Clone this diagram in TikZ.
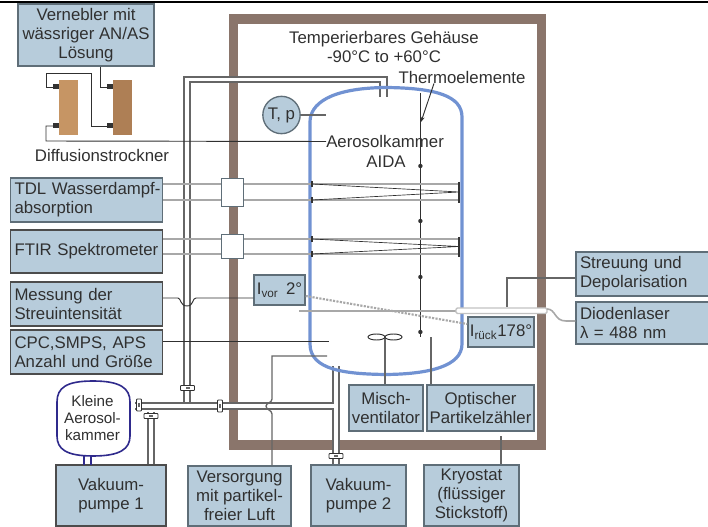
\documentclass[tikz,border=0pt]{standalone}
\usepackage{fontspec}
\setmainfont{Liberation Sans}
\usetikzlibrary{arrows.meta,calc}
\definecolor{boxblue}{HTML}{B7CCDB}
\definecolor{boxedge}{HTML}{5F6E78}
\definecolor{wallbrown}{HTML}{8A756B}
\definecolor{vesselblue}{HTML}{7192D2}
\definecolor{pipegray}{HTML}{666666}
\definecolor{raygray}{HTML}{A8A8A8}
\definecolor{inkgray}{HTML}{303030}
\definecolor{chamberblue}{HTML}{2F2A8C}
\definecolor{dryerlight}{HTML}{C69564}
\definecolor{dryerdark}{HTML}{AE7F55}
\tikzset{
  infobox/.style={draw=boxedge, line width=1pt, fill=boxblue, text=inkgray, inner sep=0pt,
    font=\fontsize{12.6}{14.25}\selectfont, align=center},
  leftbox/.style={infobox, align=left, inner xsep=3pt, text width=#1},
  boxsize/.style 2 args={minimum width=#1*0.75pt, minimum height=#2*0.75pt},
  plaintext/.style={text=inkgray, inner sep=0pt, font=\fontsize{12.6}{14.25}\selectfont, align=center},
  wire/.style={draw=inkgray, line width=0.7pt},
  graywire/.style={draw=pipegray, line width=1pt},
  pipefill/.style={draw=white, line width=3.6pt},
  pipe/.style={draw=pipegray, line width=0.8pt},
  ray/.style={draw=raygray, line width=0.9pt},
}
\newcommand{\valveh}[1]{% horizontal pipe clamp centered at (#1)
  \fill[white, draw=inkgray, line width=0.7pt, rounded corners=0.5pt]
    ($(#1)+(-7,-2.5)$) rectangle ($(#1)+(7,2.5)$);
  \fill[pipegray] ($(#1)+(-2,-1)$) rectangle ($(#1)+(2,1)$);
}
\newcommand{\valvev}[1]{% vertical pipe clamp centered at (#1)
  \fill[white, draw=inkgray, line width=0.7pt, rounded corners=0.5pt]
    ($(#1)+(-2.5,-6)$) rectangle ($(#1)+(2.5,6)$);
  \fill[pipegray] ($(#1)+(-1,-2)$) rectangle ($(#1)+(1,2)$);
}
\newcommand{\dryer}[2]{% drier column centered at (#1), colour #2
  \fill[#2] ($(#1)+(-9.5,-27.5)$) rectangle ($(#1)+(9.5,27.5)$);
  \fill[black!80] ($(#1)+(-15.5,-23)$) rectangle ($(#1)+(-9.5,-18)$);
  \fill[black!80] ($(#1)+(-15.5,16)$) rectangle ($(#1)+(-9.5,21)$);
}
\newcommand{\absorb}[3]{% white port and folded optical path, rows #1 and #2, port height #3
  \draw[ray] (tdl.east |- 0,#1) -- (459,#1);
  \draw[ray] (tdl.east |- 0,#2) -- (459,#2);
  \node[fill=white, draw=boxedge, line width=0.7pt, minimum width=16.5pt, minimum height=#3*0.75pt, inner sep=0pt]
    (port#1) at (232,{(#1+#2)/2}) {};
  \draw[line width=0.5pt, inkgray] (312,#1) -- (459,{(#1+#2)/2}) -- (312,#2);
  \draw[line width=1.6pt, black!80] (312,#1-3) -- (312,#1+3);
  \draw[line width=1.6pt, black!80] (312,#2-3) -- (312,#2+3);
  \draw[line width=1.6pt, black!80] (459,#1-2) -- (459,#2+3);
}

\begin{document}
\begin{tikzpicture}[x=0.75pt,y=-0.75pt]
  \useasboundingbox (0,0) rectangle (708,527);
  \fill[black] (0,1) rectangle (708,3.5);

  % housing
  \draw[wallbrown, line width=7pt, line join=miter] (233.5,19) rectangle (541.5,445);

  % pipes, white core first
  \draw[pipefill] (383.5,97) -- (383.5,79.5) -- (187,79.5) -- (187,403);
  \draw[pipefill] (135,406) -- (336,406);
  \draw[pipefill] (336,366) -- (336,464);
  \draw[pipefill] (151,409) -- (151,464);
  \draw[pipe] (387,97) -- (387,77) -- (184,77) -- (184,403);
  \draw[pipe] (380,97) -- (380,82) -- (190,82) -- (190,403);
  \draw[pipe] (135,403) -- (333,403) -- (333,366);
  \draw[pipe] (135,409) -- (333,409) -- (333,464);
  \draw[pipe] (339,366) -- (339,464);
  \draw[pipe] (148,412) -- (148,464);
  \draw[pipe] (154,412) -- (154,464);

  % vessel
  \draw[vesselblue, line width=2.4pt] (310,344)
    -- (310,122) .. controls (310,104) and (330,88) .. (386,87.5)
    .. controls (436,88) and (462,96) .. (462,117)
    -- (462,344) .. controls (462,366) and (430,374) .. (386,374.5)
    .. controls (345,374) and (310,370) .. (310,344);

  % boxes
  \node[infobox, boxsize={136}{62}] (nebler) at (86,35) {Vernebler mit\\wässriger AN/AS\\Lösung};
  \node[leftbox=108pt, boxsize={151}{44}] (tdl) at (86.5,200) {\mbox{TDL Wasserdampf-}\\absorption};
  \node[leftbox=108pt, boxsize={151}{43}, draw=black!70] (ftir) at (86.5,251.5) {FTIR Spektrometer};
  \node[leftbox=108pt, boxsize={151}{44}, draw=black!70] (messung) at (86.5,304) {Messung der\\Streuintensität};
  \node[leftbox=108pt, boxsize={151}{44}, draw=black!70] (cpc) at (86.5,352) {CPC,SMPS, APS\\Anzahl und Größe};
  \node[infobox, boxsize={110}{61}, draw=black!70] (pumpa) at (111,495.5) {Vakuum-\\pumpe 1};
  \node[infobox, boxsize={103}{60}] (luft) at (239.5,496) {Versorgung\\mit partikel-\\freier Luft};
  \node[infobox, boxsize={95}{61}] (pumpb) at (358.5,495.5) {Vakuum-\\pumpe 2};
  \node[infobox, boxsize={95}{61}] (kryo) at (471.5,495.5) {Kryostat\\(flüssiger\\Stickstoff)};
  \node[infobox, boxsize={74}{46}] (misch) at (386,408) {Misch-\\ventilator};
  \node[infobox, boxsize={107}{46}] (optik) at (480.5,408) {Optischer\\Partikelzähler};
  \node[infobox, boxsize={51}{30}] (ivor) at (279.5,290) {I\textsubscript{vor}\, 2°};
  \node[infobox, boxsize={66}{30}] (irueck) at (501,332) {I\textsubscript{rück}178°};
  \node[leftbox=96pt, boxsize={136}{44}] (streu) at (644,274) {Streuung und\\Depolarisation};
  \node[leftbox=96pt, boxsize={136}{42}] (diode) at (644,323) {Diodenlaser\\λ = 488 nm};
  \node[circle, draw=boxedge, line width=1pt, fill=boxblue, text=inkgray, inner sep=0pt, minimum size=28pt,
    font=\fontsize{12.6}{14}\selectfont] (tp) at (281.5,115) {T, p};

  % labels
  \node[plaintext] (gehaeuse) at (384,46.5) {Temperierbares Gehäuse\\-90°C to +60°C};
  \node[plaintext] (thermo) at (462,77) {Thermoelemente};
  \node[plaintext, anchor=west] (aida) at (326,141.5) {Aerosolkammer};
  \node[plaintext] (aidb) at (386,162) {AIDA};
  \node[plaintext] (trockner) at (102,155) {Diffusionstrockner};

  % small chamber
  \draw[draw=chamberblue, line width=1.2pt, fill=white] (57,402)
    .. controls (57,388) and (66,381) .. (93,381)
    .. controls (120,381) and (130,388) .. (130,402)
    -- (130,436) .. controls (130,449) and (120,456) .. (93,456)
    .. controls (66,456) and (57,449) .. (57,436) -- cycle;
  \node[plaintext, font=\fontsize{11.4}{12.8}\selectfont] (klein) at (92.5,418.5) {Kleine\\Aerosol-\\kammer};
  \draw[draw=chamberblue, line width=0.9pt] (84,456) -- (84,465);
  \draw[draw=chamberblue, line width=0.9pt] (91,456) -- (91,465);

  % driers
  \dryer{68.5,107.5}{dryerlight}
  \dryer{122,107.5}{dryerdark}
  \draw[wire] (55,87) -- (46,87) -- (46,73) -- (91,73) -- (91,126) -- (108,126);
  \draw[wire] (nebler.south -| 100,0) -- (100,87) -- (108,87);
  \draw[wire] (55,126) -- (46,126) -- (46,141) -- (aida.west);

  % sensors
  \draw[graywire] (tp.east) -- (326,115);
  \draw[wire] (420.4,93) -- (420.4,337);
  \foreach \ypos in {166,221,277,332}
    \fill[inkgray] (420.4,\ypos) circle (2.2);
  \draw[wire, -{Stealth[length=4pt]}] (thermo.south -| 434,0) -- (421,122);

  % optical paths
  \absorb{184}{200}{28}
  \absorb{239}{254}{24}
  \draw[raygray, line width=1.6pt, densely dotted] (ivor.east |- 0,296) -- (irueck.west |- 0,324);
  \draw[raygray, line width=2.2pt] (299,311) -- (457,311);
  \draw[raygray!70, fill=white, line width=1pt, rounded corners=1pt] (456,308) rectangle (547,313.5);
  \draw[graywire, draw=raygray, line width=1.2pt] (547,309) .. controls (556,309) and (554,321) .. (566,321) -- (diode.west |- 0,321);
  \draw[graywire] (streu.west |- 0,278) -- (507,278) -- (507,307);

  % connectors
  \draw[wire] (messung.east |- 0,298) -- (178,298) .. controls (181,298) and (180,306) .. (187,306)
    .. controls (194,306) and (192,298) .. (196,298) -- (ivor.west |- 0,298);
  \draw[wire] (cpc.east |- 0,341.4) -- (329,341.4);
  \draw[graywire] (luft.north -| 272,0) -- (272,414) .. controls (272,410) and (266,410) .. (266,406)
    .. controls (266,403) and (272,403) .. (272,399) -- (272,356) -- (327,356);
  \draw[graywire] (misch.north -| 385,0) -- (385,337);
  \draw[draw=inkgray, fill=white, line width=0.7pt] (376.5,337) ellipse (8.5 and 3);
  \draw[draw=inkgray, fill=white, line width=0.7pt] (393.5,337) ellipse (8.5 and 3);
  \draw[graywire] (optik.north -| 431,0) -- (431,337);
  \draw[graywire] (kryo.north -| 501,0) -- (501,436);

  % clamps
  \valveh{187.5,388}
  \valveh{151,416}
  \valveh{336,456}
  \valvev{139,405}
  \valvev{220,406}
\end{tikzpicture}
\end{document}
